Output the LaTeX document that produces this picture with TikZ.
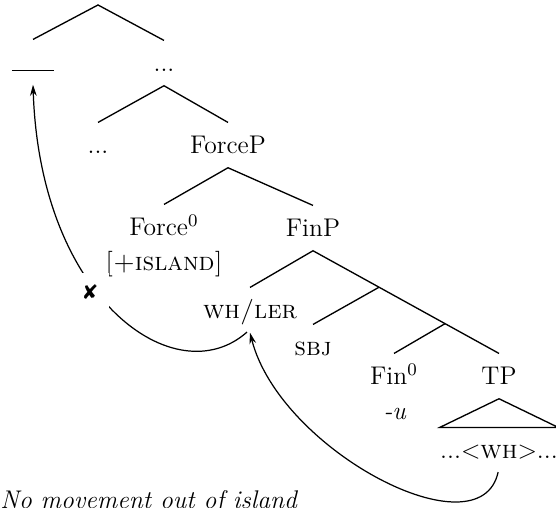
\documentclass[tikz,border=0pt]{standalone}
\usepackage{fontspec}
\newfontfamily\symfont{DejaVu Sans}
\usetikzlibrary{arrows.meta,calc,positioning}

\tikzset{
  lbl/.style={anchor=base,text height=10pt,text depth=2pt,inner sep=4pt},
  branch/.style={line width=0.6pt},
  move/.style={line width=0.55pt,-{Stealth[length=5pt,width=3pt]}},
}

\begin{document}
\begin{tikzpicture}[font=\fontsize{11.5}{14}\selectfont]
  \begin{scope}[scale=0.1582]
    \path[use as bounding box,clip] (0,0) rectangle (55.6,50.8);
    % upper part of the tree
    \coordinate (root) at (9.8,50.3);
    \node[lbl] (gap) at (3.3,43.7) {\rule{19pt}{0.6pt}};
    \node[lbl] (dotsa) at (16.4,43.6) {...};
    \node[lbl] (dotsb) at (9.8,35.4) {...};
    \node[lbl] (forcep) at (22.8,35.4) {ForceP};
    \node[lbl] (force) at (16.4,27.2) {Force$^0$};
    \node[lbl] (island) at (16.4,23.7) {\textsc{[+island]}};
    \node[lbl] (finp) at (31.3,27.1) {FinP};
    \draw[branch] (gap.north) -- (root) -- (dotsa.north);
    \draw[branch] (dotsb.north) -- (dotsa.south) -- (forcep.north);
    \draw[branch] (force.north) -- (forcep.south) -- (finp.north);
    % FinP and below
    \node[lbl] (whler) at (25,18.9) {\textsc{wh/ler}};
    \node[lbl] (sbj) at (31.3,15.2) {\textsc{sbj}};
    \node[lbl] (fin) at (39.4,12.3) {Fin$^0$};
    \node[lbl] (negu) at (39.5,8.8) {\textit{-u}};
    \node[lbl] (tp) at (49.9,12.3) {TP};
    \node[lbl,inner xsep=0pt] (trace) at (49.9,4.9) {...<\textsc{wh}>...};
    \draw[branch] (whler.north) -- (finp.south) -- (tp.north);
    \coordinate (bra) at ($(finp.south)!0.355!(tp.north)$);
    \coordinate (brb) at ($(finp.south)!0.71!(tp.north)$);
    \draw[branch] (bra) -- (sbj.north);
    \draw[branch] (brb) -- (fin.north);
    \draw[branch] (tp.south) -- (trace.north west) -- (trace.north east) -- cycle;
    % movement
    \draw[move] ([xshift=-2.5pt,yshift=2pt]trace.south) .. controls +(-1.8,-8.3) and +(3,-11.8) .. (whler.south);
    \draw[move] ([xshift=-8.5pt,yshift=2pt]whler.south) .. controls +(-7.1,-6.3) and +(0.7,-21.6) .. (gap.south);
    \node[fill=white,inner sep=5pt,font=\fontsize{9}{10}\symfont] (ban) at (9,21.6) {✘};
    \node[anchor=base west,inner sep=0pt,font=\fontsize{11.5}{14}\selectfont\itshape] (note) at (0,-0.1) {No movement out of island};
  \end{scope}
\end{tikzpicture}
\end{document}
